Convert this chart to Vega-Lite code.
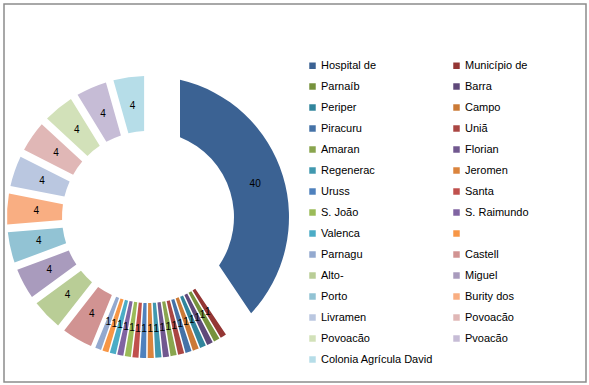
{
  "$schema": "https://vega.github.io/schema/vega-lite/v6.json",
  "width": 582,
  "height": 378,
  "autosize": "none",
  "padding": {"left": 4, "top": 4, "right": 3, "bottom": 3},
  "background": "white",
  "view": {"stroke": "#8c8c8c", "strokeWidth": 1.5, "fill": "white"},
  "data": {"values": [
    {"order": 1, "name": "Hospital de", "value": 40.3},
    {"order": 2, "name": "Município de", "value": 0.86},
    {"order": 3, "name": "Parnaíb", "value": 0.86},
    {"order": 4, "name": "Barra", "value": 0.86},
    {"order": 5, "name": "Periper", "value": 0.86},
    {"order": 6, "name": "Campo", "value": 0.86},
    {"order": 7, "name": "Piracuru", "value": 0.86},
    {"order": 8, "name": "Uniã", "value": 0.86},
    {"order": 9, "name": "Amaran", "value": 0.86},
    {"order": 10, "name": "Florian", "value": 0.86},
    {"order": 11, "name": "Regenerac", "value": 0.86},
    {"order": 12, "name": "Jeromen", "value": 0.86},
    {"order": 13, "name": "Uruss", "value": 0.86},
    {"order": 14, "name": "Santa", "value": 0.86},
    {"order": 15, "name": "S. João", "value": 0.86},
    {"order": 16, "name": "S. Raimundo", "value": 0.86},
    {"order": 17, "name": "Valenca", "value": 0.86},
    {"order": 18, "name": " ", "value": 0.86},
    {"order": 19, "name": "Parnagu", "value": 0.86},
    {"order": 20, "name": "Castell", "value": 4.35},
    {"order": 21, "name": "Alto-", "value": 4.35},
    {"order": 22, "name": "Miguel", "value": 4.35},
    {"order": 23, "name": "Porto", "value": 4.35},
    {"order": 24, "name": "Burity dos", "value": 4.35},
    {"order": 25, "name": "Livramen", "value": 4.35},
    {"order": 26, "name": "Povoacão", "value": 4.35},
    {"order": 27, "name": "Povoacão ", "value": 4.35},
    {"order": 28, "name": "Pvoacão", "value": 4.35},
    {"order": 29, "name": "Colonia Agrícula David", "value": 4.35}
  ]},
  "encoding": {
    "theta": {"field": "value", "type": "quantitative", "stack": true},
    "order": {"field": "order", "type": "quantitative"},
    "color": {
      "field": "name",
      "type": "nominal",
      "scale": {
        "domain": [
          "Hospital de", "Parnaíb", "Periper", "Piracuru", "Amaran", "Regenerac", "Uruss", "S. João", "Valenca", "Parnagu", "Alto-", "Porto", "Livramen", "Povoacão ", "Colonia Agrícula David",
          "Município de", "Barra", "Campo", "Uniã", "Florian", "Jeromen", "Santa", "S. Raimundo", " ", "Castell", "Miguel", "Burity dos", "Povoacão", "Pvoacão"
        ],
        "range": [
          "#3B6293", "#76923C", "#31859C", "#4572A7", "#89A54E", "#4198AF", "#4F81BD", "#9BBB59", "#4BACC6", "#93A9CF", "#B9CD96", "#92C3D4", "#BAC7E0", "#D2E1B9", "#B6DDE8",
          "#943634", "#5F497A", "#CB7A36", "#AA4643", "#71588F", "#DB843D", "#C0504D", "#8064A2", "#F79646", "#D19392", "#A99BBD", "#F9AE82", "#E0B7B6", "#C6BCD6"
        ]
      },
      "legend": {
        "orient": "none",
        "legendX": 303,
        "legendY": 56,
        "title": null,
        "columns": 2,
        "columnPadding": 18,
        "rowPadding": 9,
        "symbolType": "square",
        "symbolSize": 42,
        "symbolStrokeWidth": 0,
        "labelFont": "Liberation Sans",
        "labelFontSize": 11,
        "labelColor": "#000000",
        "labelOffset": 3,
        "labelLimit": 200,
        "padding": 0
      }
    }
  },
  "layer": [
    {
      "mark": {"type": "arc", "x": 144, "y": 213, "radius": 141, "radius2": 86, "padAngle": 0.0092},
      "encoding": {"opacity": {"condition": {"test": "datum.value < 1", "value": 1}, "value": 0}}
    },
    {
      "mark": {"type": "arc", "x": 144, "y": 213, "radius": 141, "radius2": 86, "padAngle": 0.047},
      "encoding": {"opacity": {"condition": {"test": "datum.value > 1 && datum.value < 10", "value": 1}, "value": 0}}
    },
    {
      "mark": {"type": "arc", "x": 144, "y": 213, "radius": 141, "radius2": 86, "padAngle": 0.39},
      "encoding": {"opacity": {"condition": {"test": "datum.value > 10", "value": 1}, "value": 0}}
    },
    {
      "mark": {"type": "text", "x": 144, "y": 213, "radius": 112, "font": "Liberation Sans", "fontSize": 10, "fill": "#000000"},
      "encoding": {
        "text": {"field": "value", "type": "quantitative", "format": ".0f"},
        "color": {"value": "#000000"}
      }
    }
  ]
}
